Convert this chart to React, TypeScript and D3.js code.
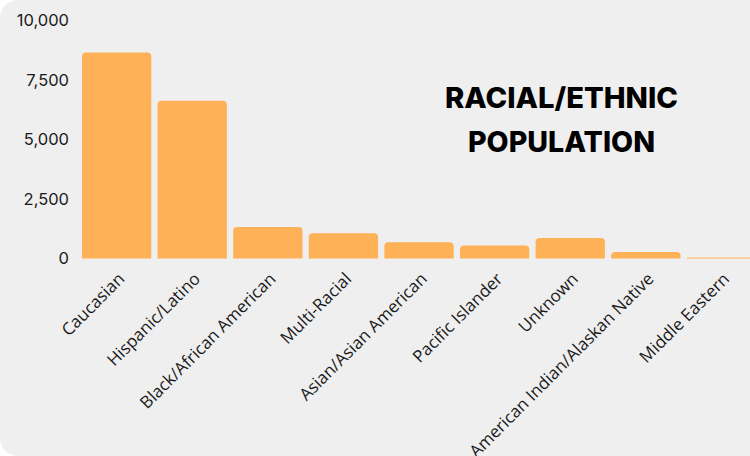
import React from "react";
import * as d3 from "d3";

const categories = [
  "Caucasian",
  "Hispanic/Latino",
  "Black/African American",
  "Multi-Racial",
  "Asian/Asian American",
  "Pacific Islander",
  "Unknown",
  "American Indian/Alaskan Native",
  "Middle Eastern",
];
const values = [8640, 6610, 1320, 1060, 680, 540, 860, 270, 45];
const yTicks = [0, 2500, 5000, 7500, 10000];
const titleLines = ["RACIAL/ETHNIC", "POPULATION"];
const titleWidths = [233, 187];

const W = 750;
const H = 456;

export default function App() {
  const step = 75.6;
  const p = 0.083;
  const x0 = 78.85;
  const x = d3
    .scaleBand<string>()
    .domain(categories)
    .range([x0, x0 + step * categories.length])
    .paddingInner(p)
    .paddingOuter(p / 2);
  const y = d3.scaleLinear().domain([0, 10000]).range([258.5, 20]);
  const fmt = d3.format(",");
  const r = 4;

  const barPath = (xs: number, w: number, yt: number, yb: number) => {
    const rr = Math.min(r, yb - yt, w / 2);
    return `M${xs},${yb}V${yt + rr}Q${xs},${yt} ${xs + rr},${yt}H${xs + w - rr}Q${xs + w},${yt} ${xs + w},${yt + rr}V${yb}Z`;
  };

  return (
    <svg
      width={W}
      height={H}
      style={{ position: "absolute", left: 0, top: 0, display: "block" }}
    >
      <rect width={W} height={H} fill="#ffffff" />
      <path
        d={`M0,18A18,18 0 0 1 18,0H${W}V${H}H18A18,18 0 0 1 0,${H - 18}Z`}
        fill="#efefef"
      />
      {yTicks.map((t) => (
        <text
          key={t}
          x={69}
          y={y(t)}
          dy="0.36em"
          textAnchor="end"
          fontFamily="Inter"
          fontSize={16.5}
          fill="#1a1a1a"
        >
          {fmt(t)}
        </text>
      ))}
      {categories.map((c, i) => {
        const xs = x(c)!;
        const w = x.bandwidth();
        return (
          <path
            key={c}
            d={barPath(xs, w, y(values[i]), y(0))}
            fill="#ffb157"
          />
        );
      })}
      {categories.map((c) => {
        const cx = x(c)! + x.bandwidth() / 2;
        return (
          <text
            key={c}
            transform={`translate(${cx + 9},${280}) rotate(-45)`}
            textAnchor="end"
            fontFamily="Open Sans"
            fontSize={17}
            fill="#1a1a1a"
          >
            {c}
          </text>
        );
      })}
      {titleLines.map((t, i) => (
        <text
          key={t}
          x={561.5}
          y={108 + i * 44}
          textAnchor="middle"
          fontFamily="Inter"
          fontWeight={800}
          fontSize={28.5}
          textLength={titleWidths[i]}
          lengthAdjust="spacingAndGlyphs"
          fill="#000"
        >
          {t}
        </text>
      ))}
    </svg>
  );
}
